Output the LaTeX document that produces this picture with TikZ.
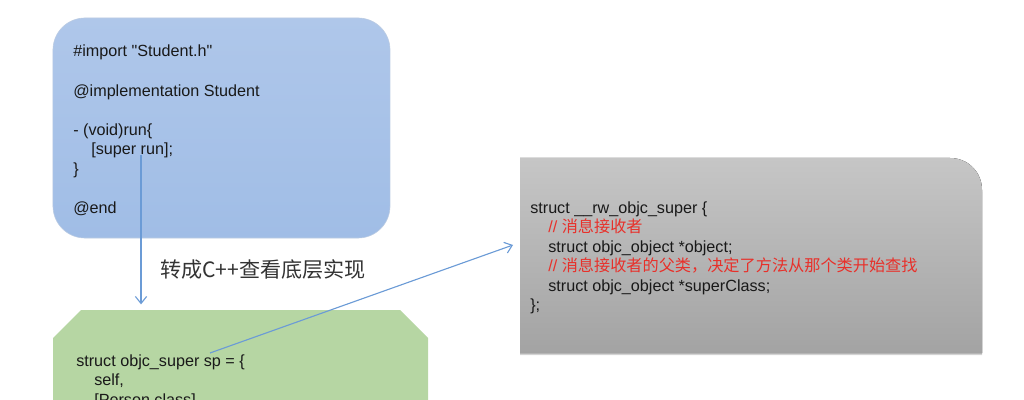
\documentclass[tikz,border=0pt]{standalone}
\usepackage{fontspec}
\setmainfont{Liberation Sans}[Ligatures=TeXOff]
\newfontfamily\cjk{Noto Sans CJK SC}
\usepackage{xcolor}
\usepackage{tikz}
\usetikzlibrary{arrows.meta,positioning,shadows}

\definecolor{boxblue}{HTML}{AFC7EA}
\definecolor{boxbluedark}{HTML}{A0BDE6}
\definecolor{boxgreen}{HTML}{B6D6A3}
\definecolor{graytop}{HTML}{C6C6C6}
\definecolor{graybot}{HTML}{A3A3A3}
\definecolor{linkblue}{HTML}{6B9BD6}
\definecolor{notered}{HTML}{E8302A}

\begin{document}
\begin{tikzpicture}
            [x=0.025cm,y=-0.025cm,
             code/.style={inner sep=0pt, anchor=north west, align=left, text=black!90,
                          font=\fontsize{11.5}{13.9}\selectfont},
             blue box/.style={rectangle, rounded corners=0.8cm, inner sep=0pt, outer sep=0pt,
                          minimum width=8.425cm, minimum height=5.5cm,
                          top color=boxblue, bottom color=boxbluedark, draw=boxbluedark!90!black!60},
             link/.style={draw=linkblue, line width=0.8pt, -{Straight Barb[length=5pt,width=8pt]}}]
            \useasboundingbox (0,0) rectangle (1024,400);

            % Student.m
            \node[blue box] (student) at (221.5,128) {};
            \node[code] (studentcode) at (73,45) {\#import "Student.h"\\[13.9pt]
                @implementation Student\\[13.9pt]
                - (void)run\{\\
                \hspace*{0.45cm}[super run];\\
                \}\\[13.9pt]
                @end};

            % objc_super
            \fill[top color=graytop, bottom color=graybot, drop shadow={shadow xshift=0pt, shadow yshift=-1.5pt, opacity=.35}]
                (520,353) -- (520,158) -- (950,158) .. controls (968,158) and (982,172) .. (982,190) -- (982,353) -- cycle;
            \node[code] (rwcode) at (530,201) {struct \_\_rw\_objc\_super \{\\
                \hspace*{0.45cm}{\color{notered}// {\cjk 消息接收者}}\\
                \hspace*{0.45cm}struct objc\_object *object;\\
                \hspace*{0.45cm}{\color{notered}// {\cjk 消息接收者的父类，决定了方法从那个类开始查找}}\\
                \hspace*{0.45cm}struct objc\_object *superClass;\\
                \};};

            % sp
            \fill[boxgreen] (53,420) -- (53,338) -- (81,310) -- (400,310) -- (428,338) -- (428,420) -- cycle;
            \coordinate (spbox) at (240.5,310);
            \node[code] (spcode) at (76,354) {struct objc\_super sp = \{\\
                \hspace*{0.45cm}self,\\
                \hspace*{0.45cm}[Person class]};

            \coordinate (superrun) at (141,155);
            \coordinate (sp) at (210,353);
            \coordinate (rwend) at (513,245);

            \draw[link, shorten >=5\pgflinewidth] (superrun) -- (superrun |- spbox);
            \draw[link] (sp) -- (rwend);

            \node[anchor=west, inner sep=0pt, text=black!80, font=\cjk\fontsize{15}{18}\selectfont] (note) at (160,270) {转成C++查看底层实现};
        \end{tikzpicture}
\end{document}
